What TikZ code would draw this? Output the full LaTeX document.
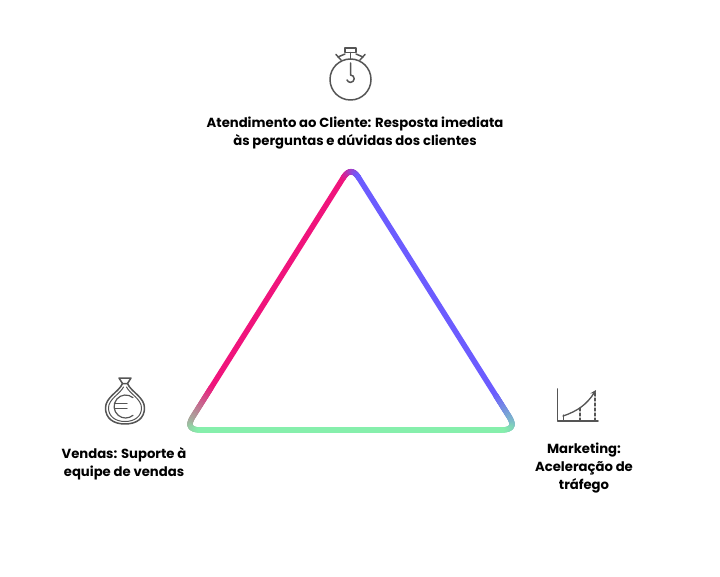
\documentclass[tikz,border=0pt]{standalone}
\usepackage{fontspec}
\setmainfont{Poppins}
\usetikzlibrary{calc}
\usetikzlibrary{arrows.meta}
\usetikzlibrary{positioning}
\definecolor{edgepink}{HTML}{F0147C}
\definecolor{edgeviolet}{HTML}{6C5CFF}
\definecolor{edgegreen}{HTML}{86EFAC}
\definecolor{icongray}{HTML}{555555}
\def\gradpiece#1#2#3#4#5#6{% start, control, end, colour from, colour to, steps
	\foreach \i [evaluate=\i as \s using (\i-1)/#6, evaluate=\i as \t using \i/#6, evaluate=\i as \p using 100*\i/#6] in {1,...,#6}
		\draw[edgeline,color=#5!\p!#4] ($($(#1)!\s!(#2)$)!\s!($(#2)!\s!(#3)$)$) -- ($($(#1)!\t!(#2)$)!\t!($(#2)!\t!(#3)$)$);
}
\begin{document}
\begin{tikzpicture}[x=1pt,y=-1pt,
		edgeline/.style={line width=5.5pt,line cap=round},
		iconline/.style={draw=icongray,line width=1.5pt,line cap=round,line join=round},
		lbl/.style={align=center,font=\fontsize{13.2}{18.4}\selectfont\bfseries,text=black,inner sep=0pt}]
	\useasboundingbox (0,0) rectangle (720,577);

	\coordinate (topC) at (351,165.5);
	\coordinate (leftC) at (184.5,430);
	\coordinate (rightC) at (517.5,430);
	\coordinate (topL) at ($(topC)!0.047!(leftC)$);
	\coordinate (topR) at ($(topC)!0.047!(rightC)$);
	\coordinate (leftFade) at ($(topC)!0.84!(leftC)$);
	\coordinate (rightFade) at ($(topC)!0.87!(rightC)$);
	\coordinate (leftU) at ($(topC)!0.95!(leftC)$);
	\coordinate (rightU) at ($(topC)!0.95!(rightC)$);
	\coordinate (leftR) at (201,430);
	\coordinate (rightL) at (501,430);

	% triangle sides
	\draw[edgeline,edgepink] (topL) -- (leftFade);
	\draw[edgeline,edgeviolet] (topR) -- (rightFade);
	\draw[edgeline,edgegreen] (leftR) -- (rightL);

	% corners
	\gradpiece{topL}{topC}{topR}{edgepink}{edgeviolet}{40}
	\gradpiece{leftFade}{$(leftFade)!0.5!(leftU)$}{leftU}{edgepink}{edgepink!40!edgegreen}{50}
	\gradpiece{leftU}{leftC}{leftR}{edgepink!40!edgegreen}{edgegreen}{30}
	\gradpiece{rightFade}{$(rightFade)!0.5!(rightU)$}{rightU}{edgeviolet}{edgeviolet!50!edgegreen}{50}
	\gradpiece{rightU}{rightC}{rightL}{edgeviolet!50!edgegreen}{edgegreen}{30}

	% stopwatch
	\draw[iconline] (350.5,79.5) circle[radius=20.5];
	\draw[iconline] (345,48) rectangle (356,52.5);
	\draw[iconline] (350.5,52.5) -- (350.5,59);
	\draw[iconline] (345,54) -- (338,57) (356,54) -- (363,57);
	\draw[iconline] (336,54.5) -- (341,60) (365,54.5) -- (360,60);
	\draw[iconline] (350.5,63) -- (350.5,75) arc[start angle=-90,end angle=160,radius=3.7];

	% money bag
	\draw[iconline] (119,378) -- (131,378) -- (127.5,383.5) -- (122.5,383.5) -- cycle;
	\draw[iconline] (122.5,383.5) .. controls (119,392) and (105.5,397) .. (105.5,408)
		.. controls (105.5,418) and (113,424) .. (125,424)
		.. controls (137,424) and (144.5,418) .. (144.5,408)
		.. controls (144.5,397) and (131,392) .. (127.5,383.5);
	\draw[iconline,line width=1pt] (123.5,387) .. controls (120,394) and (108.5,399) .. (108.5,408)
		.. controls (108.5,416) and (115,421.5) .. (125,421.5)
		.. controls (135,421.5) and (141.5,416) .. (141.5,408)
		.. controls (141.5,399) and (130,394) .. (126.5,387);
	\draw[iconline,line width=1.2pt] (133,397.7) arc[start angle=-50,end angle=-310,radius=11.5];
	\draw[iconline,line width=1.2pt] (115,403.5) -- (127,403.5) (115,408.5) -- (127,408.5);

	% chart
	\draw[iconline,line width=1.7pt] (557.5,389) -- (557.5,421) -- (598,421);
	\draw[iconline,line width=1.2pt] (563.5,421) -- (563.5,415);
	\draw[iconline,line width=1.2pt,densely dashed] (580,421) -- (580,407);
	\draw[iconline,line width=1.2pt,densely dashed] (595,421) -- (595,393);
	\draw[iconline,line width=1.3pt,-{Stealth[length=6pt,width=6pt]}] (563,416)
		.. controls (578,411) and (587,404) .. (596,390);

	% labels
	\node[lbl] (support) at (355,133) {Atendimento ao Cliente: Resposta imediata\\às perguntas e dúvidas dos clientes};
	\node[lbl] (sales) at (124,463.5) {Vendas: Suporte à\\equipe de vendas};
	\node[lbl] (marketing) at (584,468) {Marketing:\\Aceleração de\\tráfego};
\end{tikzpicture}
\end{document}
